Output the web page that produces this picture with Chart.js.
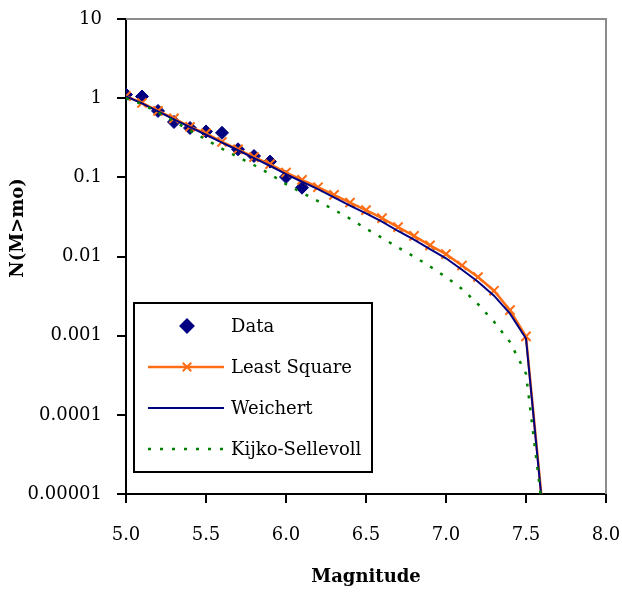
<!DOCTYPE html>
<html>
<head>
<meta charset="utf-8">
<script src="https://cdn.jsdelivr.net/npm/chart.js@4"></script>
<style>
  html, body { margin: 0; padding: 0; background: #fff; }
</style>
</head>
<body>
<canvas id="recurrenceChart" width="622" height="592"></canvas>
<script>
// Magnitudes and cumulative rates N(M>mo)
var mags = [5.0, 5.1, 5.2, 5.3, 5.4, 5.5, 5.6, 5.7, 5.8, 5.9, 6.0, 6.1, 6.2, 6.3, 6.4,
            6.5, 6.6, 6.7, 6.8, 6.9, 7.0, 7.1, 7.2, 7.3, 7.4, 7.5, 7.6];
var dataMags = [5.0, 5.1, 5.2, 5.3, 5.4, 5.5, 5.6, 5.7, 5.8, 5.9, 6.0, 6.1];
var dataVals = [1.11, 1.05, 0.69, 0.50, 0.42, 0.38, 0.365, 0.226, 0.186, 0.158, 0.101, 0.074];
var leastSquare = [1.06, 0.87, 0.69, 0.555, 0.435, 0.36, 0.28, 0.226, 0.18, 0.147, 0.115, 0.093,
                   0.075, 0.060, 0.048, 0.0385, 0.0305, 0.0235, 0.0182, 0.0138, 0.0107, 0.0077,
                   0.0055, 0.0037, 0.0021, 0.00098, 0.000008];
var weichert = [1.05, 0.86, 0.68, 0.54, 0.43, 0.345, 0.275, 0.22, 0.175, 0.14, 0.11, 0.088,
                0.071, 0.056, 0.044, 0.035, 0.0275, 0.021, 0.0163, 0.0124, 0.0095, 0.0068,
                0.0048, 0.0032, 0.0019, 0.00092, 0.0000075];
var kijko = [1.0, 0.84, 0.66, 0.51, 0.39, 0.30, 0.23, 0.18, 0.143, 0.11, 0.082, 0.064,
             0.050, 0.039, 0.030, 0.0225, 0.0172, 0.013, 0.0100, 0.0075, 0.0055, 0.0039,
             0.0025, 0.0015, 0.00083, 0.00033, 0.000007];
var yTicks = [0.00001, 0.0001, 0.001, 0.01, 0.1, 1, 10];
var yTickLabels = ["0.00001", "0.0001", "0.001", "0.01", "0.1", "1", "10"];

function pts(xs, ys) {
  return xs.map(function (x, i) { return { x: x, y: ys[i] }; });
}

var serif = "'DejaVu Serif', serif";
var lastIdx = mags.length - 1;

// gray frame, legend box and axis titles
var extras = {
  id: 'extras',
  beforeDatasetsDraw: function (chart) {
    var a = chart.chartArea, ctx = chart.ctx;
    ctx.save();
    ctx.strokeStyle = '#8c8c8c';
    ctx.lineWidth = 2;
    ctx.beginPath();
    ctx.moveTo(a.left, a.top);
    ctx.lineTo(a.right, a.top);
    ctx.lineTo(a.right, a.bottom);
    ctx.stroke();
    ctx.restore();
  },
  afterDraw: function (chart) {
    var ctx = chart.ctx;
    var ds = chart.data.datasets;
    ctx.save();
    // legend
    ctx.fillStyle = '#fff';
    ctx.fillRect(134, 303, 238, 169);
    ctx.strokeStyle = '#000';
    ctx.lineWidth = 2;
    ctx.strokeRect(134, 303, 238, 169);
    ds.forEach(function (d, i) {
      var y = 326 + i * 41;
      if (d.showLine) {
        ctx.save();
        ctx.strokeStyle = d.borderColor;
        ctx.lineWidth = d.borderWidth;
        ctx.setLineDash(d.borderDash || []);
        ctx.beginPath();
        ctx.moveTo(148, y);
        ctx.lineTo(224, y);
        ctx.stroke();
        ctx.restore();
      }
      if (d.legendMarker) {
        ctx.save();
        ctx.fillStyle = d.pointBackgroundColor;
        ctx.strokeStyle = d.pointBorderColor;
        ctx.setLineDash([]);
        Chart.helpers.drawPoint(ctx, {
          pointStyle: d.pointStyle, radius: d.legendMarker, rotation: 0,
          borderWidth: d.pointBorderWidth
        }, 187, y);
        ctx.restore();
      }
      ctx.fillStyle = '#000';
      ctx.font = "18px " + serif;
      ctx.textAlign = 'left';
      ctx.textBaseline = 'middle';
      ctx.fillText(d.label, 231, y + 1);
    });
    // axis titles
    ctx.fillStyle = '#000';
    ctx.font = "bold 18px " + serif;
    ctx.textAlign = 'center';
    ctx.textBaseline = 'middle';
    ctx.fillText('Magnitude', 366, 577);
    ctx.translate(18, 228);
    ctx.rotate(-Math.PI / 2);
    ctx.fillText('N(M>mo)', 0, 0);
    ctx.restore();
  }
};

new Chart(document.getElementById("recurrenceChart"), {
  type: "scatter",
  data: {
    datasets: [{
      label: "Data",
      data: pts(dataMags, dataVals),
      showLine: false,
      pointStyle: "rectRot",
      pointRadius: 6.5,
      pointBackgroundColor: "#000080",
      pointBorderColor: "#000080",
      pointBorderWidth: 1,
      legendMarker: 6.5,
      order: 4
    }, {
      label: "Least Square",
      data: pts(mags, leastSquare),
      showLine: true,
      borderColor: "#ff6e14",
      borderWidth: 2.5,
      pointStyle: "crossRot",
      pointRadius: function (c) { return c.dataIndex === lastIdx ? 0 : 6.5; },
      pointBackgroundColor: "#ff6e14",
      pointBorderColor: "#ff6e14",
      pointBorderWidth: 2,
      legendMarker: 6,
      order: 3
    }, {
      label: "Weichert",
      data: pts(mags, weichert),
      showLine: true,
      borderColor: "#000080",
      borderWidth: 2,
      pointRadius: 0,
      order: 2
    }, {
      label: "Kijko-Sellevoll",
      data: pts(mags, kijko),
      showLine: true,
      borderColor: "#008000",
      borderWidth: 2.5,
      borderDash: [3, 9],
      pointRadius: 0,
      order: 1
    }]
  },
  options: {
    responsive: false,
    animation: false,
    layout: { padding: { top: 19, right: 16, left: 0, bottom: 0 } },
    plugins: {
      legend: { display: false },
      tooltip: { enabled: false }
    },
    scales: {
      x: {
        type: "linear",
        min: 5, max: 8,
        afterFit: function (s) { s.height = 98; s.paddingLeft = 0; s.paddingRight = 0; },
        ticks: {
          stepSize: 0.5,
          color: "#000",
          padding: 22,
          font: { family: serif, size: 18 },
          callback: function (v) { return v.toFixed(1); }
        },
        grid: { display: true, drawOnChartArea: false, drawTicks: true, tickLength: 9, color: "#000", lineWidth: 2 },
        border: { display: true, color: "#000", width: 2 }
      },
      y: {
        type: "logarithmic",
        min: 0.00001, max: 10,
        afterFit: function (s) { s.width = 126; s.paddingTop = 0; s.paddingBottom = 0; },
        afterBuildTicks: function (s) {
          s.ticks = yTicks.map(function (v) { return { value: v }; });
        },
        ticks: {
          color: "#000",
          padding: 15,
          font: { family: serif, size: 18 },
          callback: function (v) { return yTickLabels[yTicks.indexOf(v)]; }
        },
        grid: { display: true, drawOnChartArea: false, drawTicks: true, tickLength: 9, color: "#000", lineWidth: 2 },
        border: { display: true, color: "#000", width: 2 }
      }
    }
  },
  plugins: [extras]
});
</script>
</body>
</html>
